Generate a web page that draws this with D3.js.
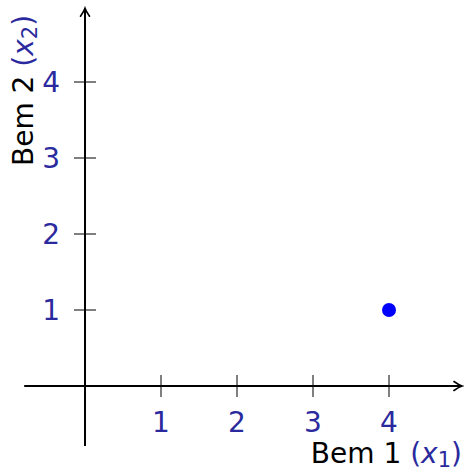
<!DOCTYPE html>
<html>
<head>
<meta charset="utf-8">
<script src="https://cdn.jsdelivr.net/npm/d3@7"></script>
<style>
  body { margin: 0; background: #fff; }
  text { font-family: "DejaVu Sans", sans-serif; }
</style>
</head>
<body>
<div id="chart"></div>
<script>
// Data
const xTicks = [1, 2, 3, 4];
const yTicks = [1, 2, 3, 4];
const pointsX = [4];
const pointsY = [1];

const W = 464, H = 472;
const tickColor = "#2a2a9e";
const fs = 28;

const svg = d3.select("#chart").append("svg")
    .attr("width", W).attr("height", H);

// unit ~76px, origin at (85, 386)
const x = d3.scaleLinear().domain([0, 4]).range([85, 389]);
const y = d3.scaleLinear().domain([0, 4]).range([386, 82]);

// arrow marker (open chevron)
svg.append("defs").append("marker")
    .attr("id", "arrow")
    .attr("viewBox", "-10 -6 12 12")
    .attr("refX", 0).attr("refY", 0)
    .attr("markerWidth", 12).attr("markerHeight", 12)
    .attr("markerUnits", "userSpaceOnUse")
    .attr("orient", "auto")
    .append("path")
    .attr("d", "M-8,-4.5 Q-3,-1 0,0 Q-3,1 -8,4.5")
    .attr("fill", "none")
    .attr("stroke", "#000").attr("stroke-width", 1.6)
    .attr("stroke-linecap", "round");

// axis lines
svg.append("line")
    .attr("x1", x(-0.8)).attr("x2", x(4.96))
    .attr("y1", y(0)).attr("y2", y(0))
    .attr("stroke", "#000").attr("stroke-width", 2)
    .attr("marker-end", "url(#arrow)");

svg.append("line")
    .attr("x1", x(0)).attr("x2", x(0))
    .attr("y1", y(-0.79)).attr("y2", y(4.97))
    .attr("stroke", "#000").attr("stroke-width", 2)
    .attr("marker-end", "url(#arrow)");

// x ticks
const xt = svg.selectAll(".xt").data(xTicks).enter().append("g")
    .attr("transform", d => `translate(${x(d)},${y(0)})`);
xt.append("line").attr("y1", -11).attr("y2", 11)
    .attr("stroke", "#000").attr("stroke-width", 1);
xt.append("text").attr("y", 46).attr("text-anchor", "middle")
    .attr("font-size", fs).attr("fill", tickColor).text(d => d);

// y ticks
const yt = svg.selectAll(".yt").data(yTicks).enter().append("g")
    .attr("transform", d => `translate(${x(0)},${y(d)})`);
yt.append("line").attr("x1", -11).attr("x2", 11)
    .attr("stroke", "#000").attr("stroke-width", 1);
yt.append("text").attr("x", -25).attr("dy", "0.36em").attr("text-anchor", "end")
    .attr("font-size", fs).attr("fill", tickColor).text(d => d);

// point
svg.selectAll(".pt").data(pointsX).enter().append("circle")
    .attr("cx", d => x(d)).attr("cy", (d, i) => y(pointsY[i]))
    .attr("r", 7).attr("fill", "#0000ff");

// x axis label
const xl = svg.append("text")
    .attr("x", 462).attr("y", 463).attr("text-anchor", "end")
    .attr("font-size", fs);
xl.append("tspan").attr("fill", "#000").text("Bem 1 ");
xl.append("tspan").attr("fill", tickColor).text("(");
xl.append("tspan").attr("fill", tickColor).attr("font-style", "italic").text("x");
xl.append("tspan").attr("fill", tickColor).attr("font-size", 21).attr("dy", 4).text("1");
xl.append("tspan").attr("fill", tickColor).attr("dy", -4).text(")");

// y axis label
const yl = svg.append("text")
    .attr("transform", "translate(33,166) rotate(-90)")
    .attr("text-anchor", "start")
    .attr("font-size", fs);
yl.append("tspan").attr("fill", "#000").text("Bem 2 ");
yl.append("tspan").attr("fill", tickColor).text("(");
yl.append("tspan").attr("fill", tickColor).attr("font-style", "italic").text("x");
yl.append("tspan").attr("fill", tickColor).attr("font-size", 21).attr("dy", 4).text("2");
yl.append("tspan").attr("fill", tickColor).attr("dy", -4).text(")");
</script>
</body>
</html>
